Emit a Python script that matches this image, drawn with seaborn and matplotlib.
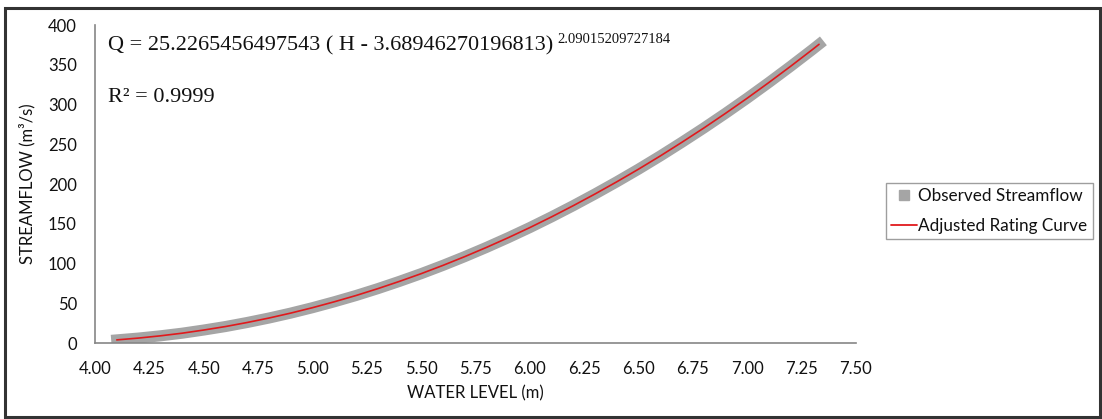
import numpy as np
import pandas as pd
import matplotlib
matplotlib.use("Agg")
import matplotlib.pyplot as plt
import seaborn as sns
from matplotlib.lines import Line2D
from matplotlib.patches import Rectangle

# ---- data ----
water_level_m = [4.10, 4.20, 4.30, 4.40, 4.50, 4.60, 4.70, 4.80, 4.90, 5.00,
                 5.10, 5.20, 5.30, 5.40, 5.50, 5.60, 5.70, 5.80, 5.90, 6.00,
                 6.10, 6.20, 6.30, 6.40, 6.50, 6.60, 6.70, 6.80, 6.90, 7.00,
                 7.10, 7.20, 7.30, 7.33]
observed_streamflow = [3.9, 6.2, 9.0, 12.3, 16.3, 20.7, 25.8, 31.4, 37.6, 44.4,
                       51.8, 59.7, 68.3, 77.5, 87.2, 97.6, 108.6, 120.2, 132.4, 145.2,
                       158.7, 172.8, 187.5, 202.8, 218.7, 235.3, 252.6, 270.4, 288.9, 308.0,
                       327.8, 348.2, 369.2, 375.7]
rating_curve_q = [3.9, 6.2, 9.0, 12.3, 16.3, 20.7, 25.8, 31.4, 37.6, 44.4,
                  51.8, 59.7, 68.3, 77.5, 87.2, 97.6, 108.6, 120.2, 132.4, 145.2,
                  158.7, 172.8, 187.5, 202.8, 218.7, 235.3, 252.6, 270.4, 288.9, 308.0,
                  327.8, 348.2, 369.2, 375.7]
x_ticks = [4.00, 4.25, 4.50, 4.75, 5.00, 5.25, 5.50, 5.75, 6.00, 6.25,
           6.50, 6.75, 7.00, 7.25, 7.50]
y_ticks = [0, 50, 100, 150, 200, 250, 300, 350, 400]
equation_text = "Q = 25.2265456497543 ( H - 3.68946270196813)"
exponent_text = "2.09015209727184"
r2_text = "R² = 0.9999"
series_names = ["Observed Streamflow", "Adjusted Rating Curve"]
x_label = "WATER LEVEL (m)"
y_label = "STREAMFLOW (m³/s)"

sns.set_theme(style="white")
plt.rcParams['font.family'] = ['Lato', 'DejaVu Sans']

W, H = 1102, 419
fig = plt.figure(figsize=(W / 100, H / 100), dpi=100)
fig.patch.set_facecolor("white")

ax_l, ax_r, ax_t, ax_b = 95, 856, 25, 343
ax = fig.add_axes([ax_l / W, 1 - ax_b / H, (ax_r - ax_l) / W, (ax_b - ax_t) / H])

df = pd.DataFrame({"H": water_level_m, "Qobs": observed_streamflow, "Qfit": rating_curve_q})
gray = "#a5a5a5"
red = "#e0191c"
sns.lineplot(data=df, x="H", y="Qobs", ax=ax, color=gray, linewidth=8.0,
             solid_capstyle="projecting", solid_joinstyle="round", legend=False)
sns.lineplot(data=df, x="H", y="Qfit", ax=ax, color=red, linewidth=1.2,
             solid_joinstyle="round", legend=False)

ax.set_xlim(4.0, 7.5)
ax.set_ylim(0, 400)
ax.set_xticks(x_ticks)
ax.set_xticklabels([f"{v:.2f}" for v in x_ticks])
ax.set_yticks(y_ticks)
ax.set_yticklabels([str(v) for v in y_ticks])
ax.set_xlabel("")
ax.set_ylabel("")
for s in ["top", "right"]:
    ax.spines[s].set_visible(False)
for s in ["left", "bottom"]:
    ax.spines[s].set_color("#868686")
    ax.spines[s].set_linewidth(1.2)
ax.tick_params(axis="both", direction="out", length=5, width=1.1, color="#868686",
               labelsize=12, labelcolor="#111111")
ax.tick_params(axis="y", pad=8)
ax.tick_params(axis="x", pad=8)
ax.grid(False)

# axis titles
fig.text((ax_l + ax_r) / 2 / W, 1 - 393 / H, x_label, ha="center", va="center",
         fontsize=12, color="#111111")
fig.text(27 / W, 1 - ((ax_t + ax_b) / 2) / H, y_label, ha="center", va="center",
         rotation=90, fontsize=12, color="#111111")

# equation and R²
eq = fig.text(108 / W, 1 - 46 / H, equation_text, ha="left", va="center",
              fontsize=16, family="Liberation Serif", color="#111111")
ax.annotate(exponent_text, xy=(1, 1), xycoords=eq, xytext=(3, 2.5),
            textcoords="offset points", ha="left", va="top",
            fontsize=10.5, family="Liberation Serif", color="#111111")
fig.text(108 / W, 1 - 98 / H, r2_text, ha="left", va="center",
         fontsize=16, family="Liberation Serif", color="#111111")

# legend
handles = [Line2D([], [], marker="s", color=gray, linestyle="none", markersize=7),
           Line2D([], [], color=red, linewidth=1.3)]
leg = fig.legend(handles, series_names, loc="upper left",
                 bbox_to_anchor=(886 / W, 1 - 183 / H), bbox_transform=fig.transFigure,
                 fontsize=12.3, frameon=True, fancybox=False, edgecolor="#868686",
                 handlelength=1.5, handletextpad=0.1, labelspacing=0.8,
                 borderpad=0.3, borderaxespad=0)
leg.get_frame().set_linewidth(1.0)
for t in leg.get_texts():
    t.set_color("#111111")

# outer chart border
fig.patches.append(Rectangle((5 / W, 2 / H), 1095 / W, 409 / H, transform=fig.transFigure,
                             fill=False, edgecolor="#333333", linewidth=2.2))

fig.savefig("out.png", dpi=100, facecolor="white")
